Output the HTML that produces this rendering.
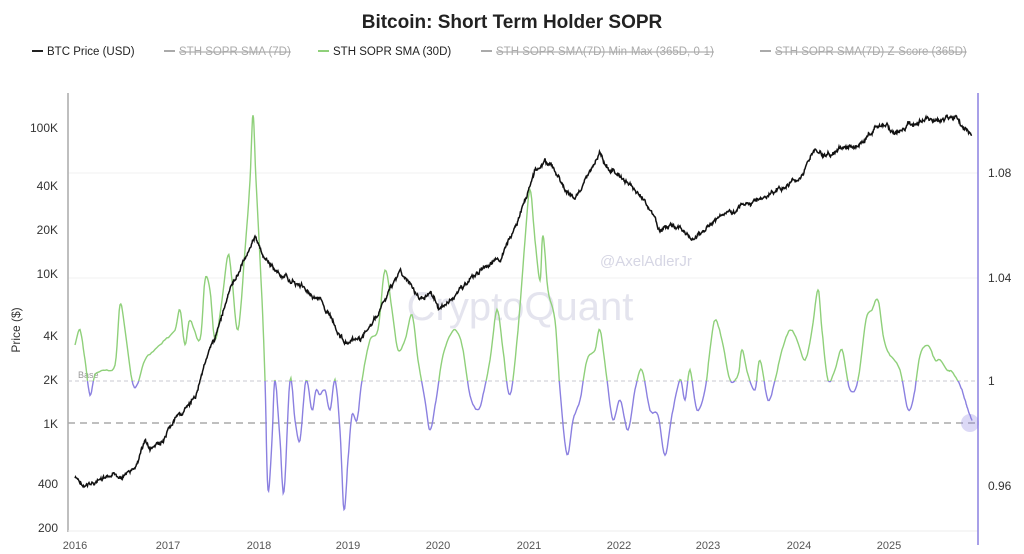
<!DOCTYPE html>
<html><head><meta charset="utf-8"><style>
html,body{margin:0;padding:0;background:#fff;width:1024px;height:554px;overflow:hidden}
svg{display:block;font-family:"Liberation Sans",sans-serif}
</style></head><body>
<svg id="s" width="1024" height="554" viewBox="0 0 1024 554">
<text x="512" y="28" text-anchor="middle" font-size="19" font-weight="bold" fill="#222">Bitcoin: Short Term Holder SOPR</text>
<g font-size="11.5">
<line x1="32" y1="51" x2="43" y2="51" stroke="#222" stroke-width="2"/><text x="47" y="55" fill="#222">BTC Price (USD)</text>
<line x1="164" y1="51" x2="175" y2="51" stroke="#aaa" stroke-width="2"/><text x="179" y="55" fill="#aaa" text-decoration="line-through">STH SOPR SMA (7D)</text>
<line x1="318" y1="51" x2="329" y2="51" stroke="#8fd07a" stroke-width="2"/><text x="333" y="55" fill="#222">STH SOPR SMA (30D)</text>
<line x1="481" y1="51" x2="492" y2="51" stroke="#aaa" stroke-width="2"/><text x="496" y="55" fill="#aaa" text-decoration="line-through">STH SOPR SMA(7D) Min-Max (365D, 0-1)</text>
<line x1="760" y1="51" x2="771" y2="51" stroke="#aaa" stroke-width="2"/><text x="775" y="55" fill="#aaa" text-decoration="line-through">STH SOPR SMA(7D) Z-Score (365D)</text>
</g>
<g stroke="#f2f2f2"><line x1="68" y1="173" x2="978" y2="173"/><line x1="68" y1="278" x2="978" y2="278"/></g>
<line x1="68" y1="93" x2="68" y2="532" stroke="#aaa" stroke-width="1.5"/>
<line x1="68" y1="531" x2="978" y2="531" stroke="#eee"/>
<line x1="978" y1="93" x2="978" y2="545" stroke="#8b80e0" stroke-width="1.5"/>
<g font-size="12" fill="#333" text-anchor="end">
<text x="58" y="132">100K</text><text x="58" y="190">40K</text><text x="58" y="234">20K</text><text x="58" y="278">10K</text><text x="58" y="340">4K</text><text x="58" y="384">2K</text><text x="58" y="428">1K</text><text x="58" y="488">400</text><text x="58" y="532">200</text>
</g>
<text x="20" y="330" font-size="12" fill="#333" transform="rotate(-90 20 330)" text-anchor="middle">Price ($)</text>
<g font-size="12" fill="#333">
<text x="988" y="177">1.08</text><text x="988" y="282">1.04</text><text x="988" y="385">1</text><text x="988" y="490">0.96</text>
</g>
<g font-size="11" fill="#555" text-anchor="middle">
<text x="75" y="549">2016</text><text x="168" y="549">2017</text><text x="259" y="549">2018</text><text x="348" y="549">2019</text><text x="438" y="549">2020</text><text x="529" y="549">2021</text><text x="619" y="549">2022</text><text x="708" y="549">2023</text><text x="799" y="549">2024</text><text x="889" y="549">2025</text>
</g>
<text x="600" y="266" font-size="15" fill="#d6d6e4">@AxelAdlerJr</text>
<text x="520" y="320" font-size="40" fill="#e4e4ee" text-anchor="middle">CryptoQuant</text>
<line x1="68" y1="381" x2="978" y2="381" stroke="#c8c8d0" stroke-dasharray="4,3"/>
<text x="78" y="378" font-size="9" fill="#999">Base</text>
<line x1="68" y1="423" x2="978" y2="423" stroke="#aaa" stroke-width="1.5" stroke-dasharray="7,5"/>
<defs>
<clipPath id="above"><rect x="0" y="0" width="1024" height="381"/></clipPath>
<clipPath id="below"><rect x="0" y="381" width="1024" height="200"/></clipPath>
</defs>
<path id="sg" fill="none" stroke="#8fd07a" stroke-width="1.4" clip-path="url(#above)"/>
<path id="sp" fill="none" stroke="#8b80e0" stroke-width="1.4" clip-path="url(#below)"/>
<path id="pr" fill="none" stroke="#111" stroke-width="1.5"/>
<circle cx="970" cy="423" r="9" fill="#8b80e0" opacity="0.3"/>
</svg>
<script>
var price=[[75,478],[85,488],[95,482],[120,476],[135,470],[145,440],[150,450],[165,440],[175,420],[185,410],[195,400],[205,360],[215,340],[220,320],[230,290],[240,270],[248,250],[255,236],[262,255],[270,265],[280,275],[300,285],[320,300],[333,320],[340,335],[348,345],[360,340],[375,320],[390,290],[400,270],[410,285],[420,300],[430,290],[440,310],[450,300],[460,290],[480,270],[500,260],[515,230],[525,200],[535,170],[545,160],[555,170],[565,190],[575,200],[585,180],[600,155],[610,170],[625,180],[640,195],[650,210],[660,232],[670,225],[680,230],[695,240],[705,230],[715,220],[730,210],[745,205],[760,200],[780,190],[795,180],[805,170],[815,150],[830,155],[845,150],[860,145],[875,128],[885,125],[895,135],[910,125],[925,118],[940,120],[955,115],[965,130],[972,135]];
var sopr=[[75,345],[80,330],[85,360],[90,395],[95,375],[105,370],[115,365],[120,305],[125,330],[132,380],[137,385],[145,360],[155,350],[165,340],[175,330],[180,310],[185,345],[190,320],[200,340],[205,280],[210,290],[215,340],[222,300],[228,255],[232,280],[238,330],[245,250],[250,180],[253,115],[256,180],[262,300],[265,380],[268,490],[272,440],[275,380],[280,440],[284,492],[290,380],[295,420],[300,440],[306,380],[312,410],[316,390],[320,395],[325,390],[330,410],[335,380],[340,430],[344,510],[348,460],[352,415],[357,420],[362,380],[370,340],[378,330],[385,270],[392,310],[398,350],[405,340],[412,315],[418,360],[425,400],[430,430],[436,400],[442,360],[448,340],[455,330],[462,345],[470,395],[478,410],[483,395],[490,360],[497,310],[503,350],[510,395],[518,330],[525,240],[530,190],[535,240],[540,280],[543,235],[548,290],[555,320],[560,390],[567,455],[573,420],[580,400],[587,360],[595,350],[600,330],[607,380],[613,420],[620,400],[628,430],[635,390],[642,370],[650,410],[658,415],[665,455],[672,415],[680,380],[685,400],[690,370],[697,410],[705,390],[710,350],[715,320],[722,340],[730,380],[738,375],[742,350],[748,375],[755,390],[760,360],[768,400],[775,380],[782,350],[790,330],[797,340],[805,360],[812,330],[818,290],[822,330],[828,380],[835,370],[842,350],[850,390],[858,380],[866,320],[872,310],[878,300],[884,340],[890,355],[900,370],[908,410],[914,395],[920,355],[928,345],[935,360],[940,360],[947,370],[952,372],[960,385],[965,400],[968,410],[972,420]];
var seed=7;function rnd(){seed=(seed*9301+49297)%233280;return seed/233280-0.5;}
function priceD(pts){var d="",w=0;for(var i=0;i<pts.length-1;i++){var a=pts[i],b=pts[i+1];var n=Math.max(1,Math.round((b[0]-a[0])*2));for(var k=0;k<n;k++){var t=k/n;w=w*0.85+rnd()*3;var x=a[0]+(b[0]-a[0])*t,y=a[1]+(b[1]-a[1])*t+w+rnd()*2;d+=(d?"L":"M")+x.toFixed(1)+","+y.toFixed(1);}}var l=pts[pts.length-1];return d+"L"+l[0]+","+l[1];}
function smoothD(p){var d="M"+p[0][0]+","+p[0][1];for(var i=0;i<p.length-1;i++){var p0=p[Math.max(0,i-1)],p1=p[i],p2=p[i+1],p3=p[Math.min(p.length-1,i+2)];for(var k=1;k<=6;k++){var t=k/6,t2=t*t,t3=t2*t;var f=function(a,b,c,e){return 0.5*((2*b)+(-a+c)*t+(2*a-5*b+4*c-e)*t2+(-a+3*b-3*c+e)*t3);};var x=f(p0[0],p1[0],p2[0],p3[0]),y=f(p0[1],p1[1],p2[1],p3[1])+rnd()*1.2;d+="L"+x.toFixed(1)+","+y.toFixed(1);}}return d;}
document.getElementById("pr").setAttribute("d",priceD(price));
var sd=smoothD(sopr);
document.getElementById("sg").setAttribute("d",sd);
document.getElementById("sp").setAttribute("d",sd);
</script>
</body></html>
